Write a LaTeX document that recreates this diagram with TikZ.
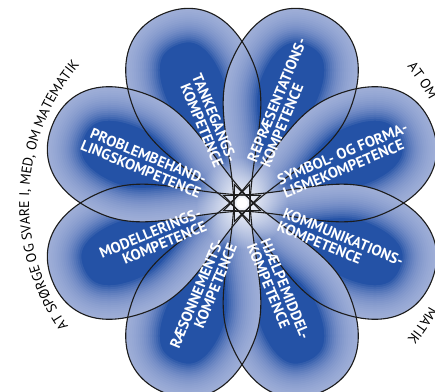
\documentclass[tikz,border=0pt]{standalone}
\usepackage{fontspec}
\newfontfamily\kompfont{PT Sans}
\usetikzlibrary{decorations.text,fadings}

\definecolor{petaldark}{RGB}{36,82,166}
\definecolor{petallight}{RGB}{182,193,228}
\definecolor{petaledge}{RGB}{28,28,28}

% one petal, tip near the middle, pointing along +x
\newcommand{\petalline}{(-20,0) .. controls (44.9,26.2) and (75,64) .. (125,64) .. controls (175,64) and (205,40) .. (205,0) .. controls (205,-40) and (175,-64) .. (125,-64) .. controls (75,-64) and (44.9,-26.2) .. (-20,0) -- cycle}

\newcommand{\shadepetal}[1]{%
	\begin{scope}[rotate=#1]
		\clip \petalline;
		\fill[petaldark] \petalline;
		\foreach \w in {68,64,...,4}{\draw[petallight, opacity=.11, line width=\w pt] \petalline;}
	\end{scope}}

\tikzfading[name=centreglow, inner color=transparent!0, outer color=transparent!100]

\tikzset{
	petaltext/.style={text=white, inner sep=0pt, font=\kompfont\bfseries\fontsize{15}{14.5}\selectfont},
	outline/.style={petaledge, line width=1.1pt}
}

\begin{document}
\begin{tikzpicture}[x=1pt, y=1pt]
		\useasboundingbox (-242,-188) rectangle (193,203);
		\clip (-242,-188) rectangle (193,203);
		
		\shadepetal{112.5}
		\shadepetal{67.5}
		\shadepetal{22.5}
		\shadepetal{-22.5}
		\shadepetal{-67.5}
		\shadepetal{-112.5}
		\shadepetal{-157.5}
		\shadepetal{157.5}
		
		\fill[white, path fading=centreglow] (0,0) circle (46);
		
		\draw[outline, rotate=112.5] \petalline;
		\draw[outline, rotate=67.5] \petalline;
		\draw[outline, rotate=22.5] \petalline;
		\draw[outline, rotate=-22.5] \petalline;
		\draw[outline, rotate=-67.5] \petalline;
		\draw[outline, rotate=-112.5] \petalline;
		\draw[outline, rotate=-157.5] \petalline;
		\draw[outline, rotate=157.5] \petalline;
		\fill[white] (0,0) circle (5.5);
		
		\node (tank) at (112.5:42) [petaltext, anchor=east, rotate=-67.5, align=right] {TANKEGANGS-\\KOMPETENCE};
		\node (repr) at (67.5:42) [petaltext, anchor=west, rotate=67.5, align=left] {REPRÆSENTATIONS-\\KOMPETENCE};
		\node (symb) at (22.5:42) [petaltext, anchor=west, rotate=22.5, align=left] {SYMBOL- OG FORMA-\\LISMEKOMPETENCE};
		\node (komm) at (-22.5:42) [petaltext, anchor=west, rotate=-22.5, align=left] {KOMMUNIKATIONS-\\KOMPETENCE};
		\node (hjlp) at (-67.5:42) [petaltext, anchor=west, rotate=-67.5, align=left] {HJÆLPEMIDDEL-\\KOMPETENCE};
		\node (raes) at (-112.5:42) [petaltext, anchor=east, rotate=67.5, align=right] {RÆSONNEMENTS-\\KOMPETENCE};
		\node (modl) at (-157.5:42) [petaltext, anchor=east, rotate=22.5, align=right] {MODELLERINGS-\\KOMPETENCE};
		\node (prob) at (157.5:42) [petaltext, anchor=east, rotate=-22.5, align=right] {PROBLEMBEHAND-\\LINGSKOMPETENCE};
		
		\path[decorate, decoration={text along path, text align=center, text={|\kompfont\fontsize{14}{16}\selectfont|AT SPØRGE OG SVARE I, MED, OM MATEMATIK}}] (230:213) arc[start angle=230, end angle=125, radius=213];
		\path[decorate, decoration={text along path, text align=left, text={|\kompfont\fontsize{14}{16}\selectfont|AT OM}}] (39.5:214) arc[start angle=39.5, end angle=0, radius=214];
		\path[decorate, decoration={text along path, text align=right, text={|\kompfont\fontsize{14}{16}\selectfont|MATIK}}] (-15:214) arc[start angle=-15, end angle=-39.5, radius=214];
\end{tikzpicture}
\end{document}
